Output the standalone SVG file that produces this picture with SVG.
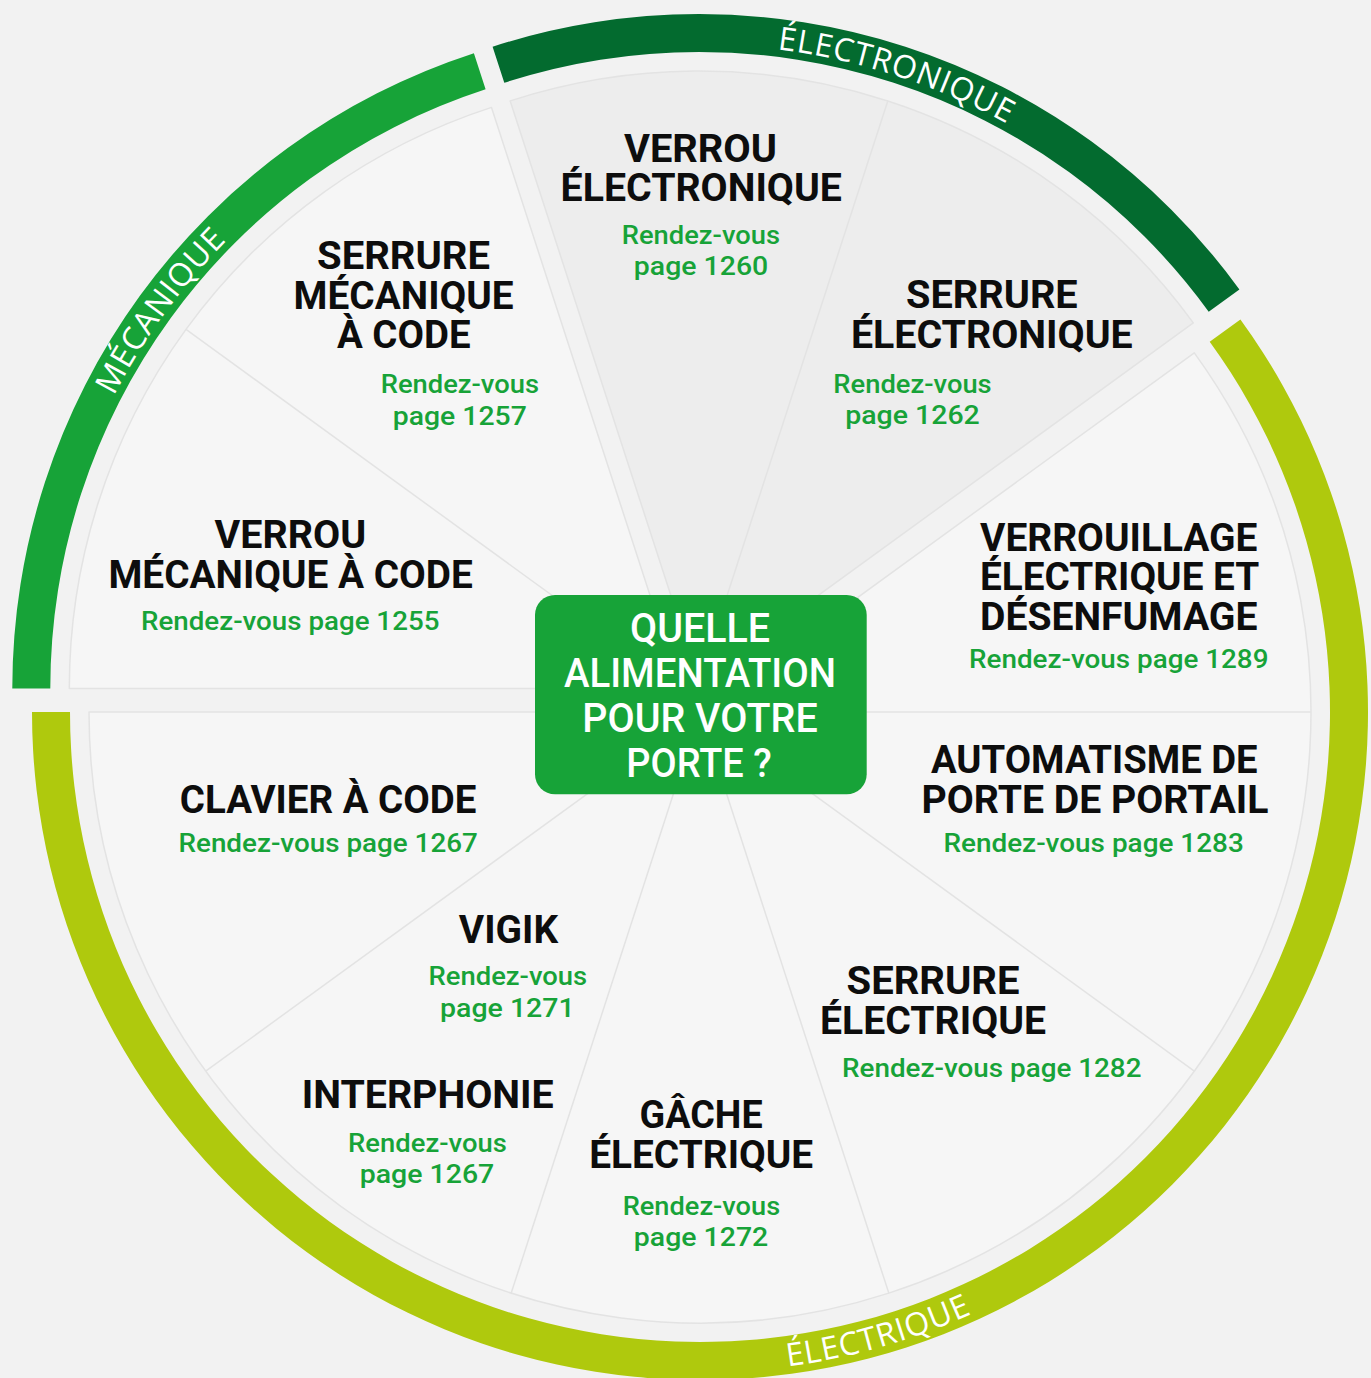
<svg xmlns="http://www.w3.org/2000/svg" width="1371" height="1378" viewBox="0 0 1371 1378">
<defs>
<style>
.bg{fill:#f2f2f2}
.pie{fill:#f6f6f6;stroke:#e3e3e3;stroke-width:1.5;stroke-linejoin:round}
.pie-dark{fill:#ededed;stroke:#e3e3e3;stroke-width:1.5;stroke-linejoin:round}
.div{stroke:#e3e3e3;stroke-width:1.5;fill:none}
.band-m{fill:#17a338}
.band-e{fill:#036b2f}
.band-l{fill:#afc90d}
.lbl{font-family:"Open Sans","Noto Sans",sans-serif;font-size:32px;fill:#ffffff;letter-spacing:0.8px}
.t{font-family:Roboto,"Liberation Sans",sans-serif;font-weight:700;font-size:39px;fill:#0d0d0d}
.g{font-family:Roboto,"Liberation Sans",sans-serif;font-weight:500;font-size:26px;fill:#17a338}
.c{font-family:Roboto,"Liberation Sans",sans-serif;font-weight:500;font-size:40px;fill:#ffffff}
</style>
<path id="arc-m" d="M 42.8 688.5 A 637.5 637.5 0 0 1 483.3 82.2"/>
<path id="arc-e" d="M 502 75.7 A 637.5 637.5 0 0 1 1214.7 307.3"/>
<path id="arc-l" d="M 241.2 1187 A 660.5 660.5 0 0 0 1340.9 871.8"/>
</defs>
<rect class="bg" x="0" y="0" width="1371" height="1378"/>

<g id="wheel">
  <g id="band-mecanique">
    <path class="band-m" d="M 12.3 688.5 A 668 668 0 0 1 473.9 53.2 L 485.6 89.3 A 630 630 0 0 0 50.3 688.5 Z"/>
    <text class="lbl" text-anchor="middle"><textPath href="#arc-m" startOffset="50%">MÉCANIQUE</textPath></text>
  </g>
  <g id="band-electronique">
    <path class="band-e" d="M 492.6 46.7 A 668 668 0 0 1 1239.4 289.4 L 1208.7 311.7 A 630 630 0 0 0 504.3 82.8 Z"/>
    <text class="lbl" text-anchor="middle"><textPath href="#arc-e" startOffset="50%">ÉLECTRONIQUE</textPath></text>
  </g>
  <g id="band-electrique">
    <path class="band-l" d="M 1240.4 319.4 A 668 668 0 1 1 32 712 L 70 712 A 630 630 0 1 0 1209.7 341.7 Z"/>
    <text class="lbl" text-anchor="middle"><textPath href="#arc-l" startOffset="50%">ÉLECTRIQUE</textPath></text>
  </g>
  <path id="pie-mecanique" class="pie" d="M 680.3 688.5 L 69.3 688.5 A 611 611 0 0 1 491.5 107.4 Z"/>
  <path id="pie-electronique" class="pie-dark" d="M 699 682 L 510.2 100.9 A 611 611 0 0 1 1193.3 322.9 Z"/>
  <path id="pie-electrique" class="pie" d="M 700 712 L 1194.3 352.9 A 611 611 0 1 1 89 712 Z"/>
</g>

<g id="connectors">
  <path class="div" d="M 680.3 688.5 L 186 329.4"/>
  <path class="div" d="M 699 682 L 887.8 100.9"/>
  <path class="div" d="M 700 712 L 1311 712"/>
  <path class="div" d="M 700 712 L 1194.3 1071.1"/>
  <path class="div" d="M 700 712 L 888.8 1293.1"/>
  <path class="div" d="M 700 712 L 511.2 1293.1"/>
  <path class="div" d="M 700 712 L 205.7 1071.1"/>
</g>

<g id="node-serrure-mecanique">
  <text class="t" x="317" y="269" textLength="173" lengthAdjust="spacingAndGlyphs">SERRURE</text>
  <text class="t" x="293.6" y="308.5" textLength="220" lengthAdjust="spacingAndGlyphs">MÉCANIQUE</text>
  <text class="t" x="337" y="348.3" textLength="133.6" lengthAdjust="spacingAndGlyphs">À CODE</text>
  <text class="g" x="380.7" y="393.3" textLength="158.3" lengthAdjust="spacingAndGlyphs">Rendez-vous</text>
  <text class="g" x="392.8" y="425" textLength="134" lengthAdjust="spacingAndGlyphs">page 1257</text>
</g>

<g id="node-verrou-electronique">
  <text class="t" x="624" y="161.7" textLength="153" lengthAdjust="spacingAndGlyphs">VERROU</text>
  <text class="t" x="560.6" y="201" textLength="281.3" lengthAdjust="spacingAndGlyphs">ÉLECTRONIQUE</text>
  <text class="g" x="621.8" y="243.5" textLength="158.2" lengthAdjust="spacingAndGlyphs">Rendez-vous</text>
  <text class="g" x="633.8" y="274.5" textLength="134.5" lengthAdjust="spacingAndGlyphs">page 1260</text>
</g>

<g id="node-serrure-electronique">
  <text class="t" x="906" y="308.3" textLength="171.7" lengthAdjust="spacingAndGlyphs">SERRURE</text>
  <text class="t" x="850.9" y="348.3" textLength="281.8" lengthAdjust="spacingAndGlyphs">ÉLECTRONIQUE</text>
  <text class="g" x="833.3" y="392.7" textLength="158.4" lengthAdjust="spacingAndGlyphs">Rendez-vous</text>
  <text class="g" x="845.2" y="424" textLength="134.6" lengthAdjust="spacingAndGlyphs">page 1262</text>
</g>

<g id="node-verrou-mecanique">
  <text class="t" x="214.6" y="548.3" textLength="151.6" lengthAdjust="spacingAndGlyphs">VERROU</text>
  <text class="t" x="108.4" y="588.3" textLength="364.5" lengthAdjust="spacingAndGlyphs">MÉCANIQUE À CODE</text>
  <text class="g" x="141" y="630" textLength="298.4" lengthAdjust="spacingAndGlyphs">Rendez-vous page 1255</text>
</g>

<g id="node-clavier">
  <text class="t" x="179.8" y="812.7" textLength="296.6" lengthAdjust="spacingAndGlyphs">CLAVIER À CODE</text>
  <text class="g" x="178.5" y="851.7" textLength="299.3" lengthAdjust="spacingAndGlyphs">Rendez-vous page 1267</text>
</g>

<g id="node-verrouillage">
  <text class="t" x="980" y="550.7" textLength="277.5" lengthAdjust="spacingAndGlyphs">VERROUILLAGE</text>
  <text class="t" x="980" y="590" textLength="279.2" lengthAdjust="spacingAndGlyphs">ÉLECTRIQUE ET</text>
  <text class="t" x="980" y="630" textLength="277.5" lengthAdjust="spacingAndGlyphs">DÉSENFUMAGE</text>
  <text class="g" x="969" y="668.3" textLength="299.5" lengthAdjust="spacingAndGlyphs">Rendez-vous page 1289</text>
</g>

<g id="node-automatisme">
  <text class="t" x="931" y="773.3" textLength="326.5" lengthAdjust="spacingAndGlyphs">AUTOMATISME DE</text>
  <text class="t" x="921.4" y="812.7" textLength="347.1" lengthAdjust="spacingAndGlyphs">PORTE DE PORTAIL</text>
  <text class="g" x="943.4" y="851.7" textLength="300.4" lengthAdjust="spacingAndGlyphs">Rendez-vous page 1283</text>
</g>

<g id="node-serrure-electrique">
  <text class="t" x="846.5" y="994" textLength="173" lengthAdjust="spacingAndGlyphs">SERRURE</text>
  <text class="t" x="820" y="1034" textLength="226" lengthAdjust="spacingAndGlyphs">ÉLECTRIQUE</text>
  <text class="g" x="842" y="1076.7" textLength="299.5" lengthAdjust="spacingAndGlyphs">Rendez-vous page 1282</text>
</g>

<g id="node-gache">
  <text class="t" x="639.6" y="1128.3" textLength="123" lengthAdjust="spacingAndGlyphs">GÂCHE</text>
  <text class="t" x="589.2" y="1168.3" textLength="224" lengthAdjust="spacingAndGlyphs">ÉLECTRIQUE</text>
  <text class="g" x="622.7" y="1215" textLength="157.5" lengthAdjust="spacingAndGlyphs">Rendez-vous</text>
  <text class="g" x="633.8" y="1245.5" textLength="134.5" lengthAdjust="spacingAndGlyphs">page 1272</text>
</g>

<g id="node-vigik">
  <text class="t" x="458.8" y="943.3" textLength="99.3" lengthAdjust="spacingAndGlyphs">VIGIK</text>
  <text class="g" x="428.5" y="985" textLength="158.7" lengthAdjust="spacingAndGlyphs">Rendez-vous</text>
  <text class="g" x="440" y="1016.7" textLength="134.7" lengthAdjust="spacingAndGlyphs">page 1271</text>
</g>

<g id="node-interphonie">
  <text class="t" x="301.7" y="1108.3" textLength="252" lengthAdjust="spacingAndGlyphs">INTERPHONIE</text>
  <text class="g" x="348.1" y="1152.3" textLength="158.7" lengthAdjust="spacingAndGlyphs">Rendez-vous</text>
  <text class="g" x="359.7" y="1183.3" textLength="134.6" lengthAdjust="spacingAndGlyphs">page 1267</text>
</g>

<g id="node-center">
  <rect x="535" y="595" width="331.7" height="199.3" rx="20" ry="20" fill="#17a338"/>
  <text class="c" x="630" y="641.7" textLength="140" lengthAdjust="spacingAndGlyphs">QUELLE</text>
  <text class="c" x="564" y="687.3" textLength="272" lengthAdjust="spacingAndGlyphs">ALIMENTATION</text>
  <text class="c" x="582.3" y="732.3" textLength="235.4" lengthAdjust="spacingAndGlyphs">POUR VOTRE</text>
  <text class="c" x="626.3" y="777.3" textLength="145.4" lengthAdjust="spacingAndGlyphs">PORTE ?</text>
</g>
</svg>
